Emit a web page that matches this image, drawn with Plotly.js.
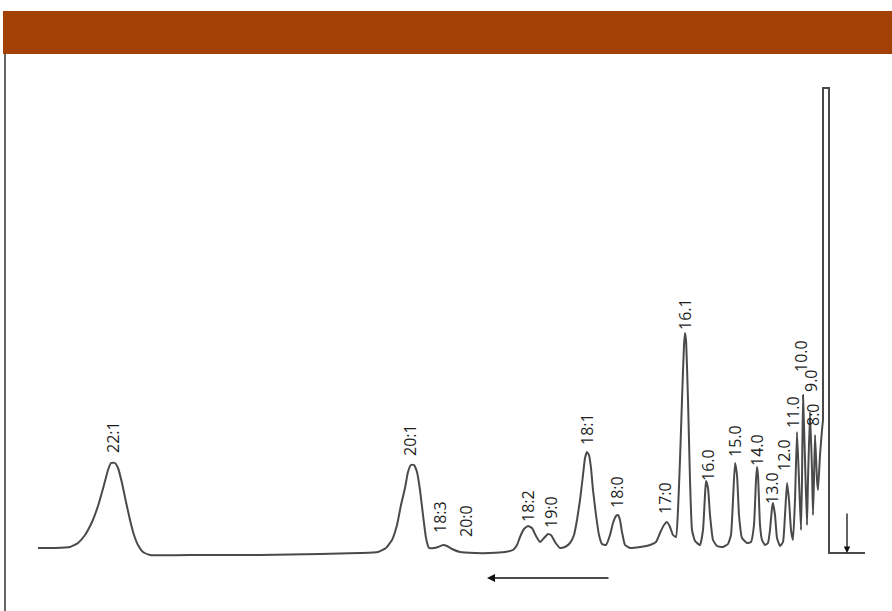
<!DOCTYPE html>
<html>
<head>
<meta charset="utf-8">
<script src="https://cdn.plot.ly/plotly-3.0.1.min.js"></script>
<style>html,body{margin:0;padding:0;background:#fff;}#chart{width:892px;height:611px;}</style>
</head>
<body>
<div id="chart"></div>
<script>
// Chromatogram trace: retention position (x) and detector signal (y)
const retention = [38,55,70,78,85,92,98,104,108,111,115,118,122,126,130,134,138,143,150,200,260,320,360,378,386,392,397,401,405,408,411,414,417,420,423,426,429,434,438,443,447,452,460,475,490,505,513,517,520,524,528,532,536,540,544,548,551,555,560,565,570,574,577,580,583,585,587,589,591,593,596,599,602,606,610,613,616,618,620,622,625,630,640,650,656,660,664,667,670,673,676,678,680,682,684,685,686,688,690,692,695,700,703,705,706,708,710,713,717,723,728,731,733,735,737,739,742,747,751,754,756,757,758,760,762,765,768,770,772,773,775,777,780,783,785,787,789,791,793,795,797,799,801,802,803,805,807,808,810,812,813,814,815,817,818,820,822,823];
const signal = [5,5,6,10,18,31,47,68,83,90,90,85,70,51,33,18,8,1,-2,-2,-2,-1,0,1,5,13,28,48,65,81,88,88,81,63,38,15,5,5,6,8,7,4,1,0,0,1,3,8,16,24,27,25,17,11,15,19,18,11,5,6,10,18,33,53,78,95,101,98,85,63,38,18,9,8,18,30,37,38,33,21,8,5,6,8,11,20,28,31,26,18,16,43,93,153,208,220,213,153,73,23,12,8,23,58,72,65,38,13,7,6,9,18,53,90,78,38,15,10,11,28,73,86,78,28,13,8,10,23,45,50,38,15,7,11,38,70,53,23,13,53,121,73,23,73,158,93,28,73,141,83,38,73,118,73,63,98,123,133];
// Solvent front peak (off-scale, flat-topped) and trailing baseline
const solventRetention = [823,823,829,829,865];
const solventSignal = [133,465,465,0,0];

// Peak labels and where they sit
const peakLabels = ["22:1","20:1","18:3","20:0","18:2","19:0","18:1","18:0","17:0","16.1","16.0","15.0","14.0","13.0","12.0","11.0","10.0","9.0","8:0"];
const labelX = [113,410,440,466,528,551,587,617,665,685,708,735,757,772,784,793,801,811,813];
const labelY = [116,113,36,32,47,41,124,61,55,239,88,112,103,65,98,141,197,172,138];

const lineStyle = {color: '#4a4a4a', width: 2};
const trace = {
  x: retention, y: signal, type: 'scatter', mode: 'lines',
  line: Object.assign({}, lineStyle, {shape: 'spline', smoothing: 0.4}),
  hoverinfo: 'skip'
};
const solvent = {
  x: solventRetention, y: solventSignal, type: 'scatter', mode: 'lines',
  line: Object.assign({}, lineStyle, {shape: 'linear'}),
  hoverinfo: 'skip'
};

const annotations = peakLabels.map((t, i) => ({
  x: labelX[i], y: labelY[i], xref: 'x', yref: 'y',
  text: t, showarrow: false, textangle: -90,
  xanchor: 'center', yanchor: 'middle',
  font: {family: 'Open Sans, sans-serif', size: 16, color: '#1e1e1e'}
}));
// direction arrow (left) and injection marker (down)
annotations.push({
  x: 487, y: -25, ax: 610, ay: -25, axref: 'x', ayref: 'y', xref: 'x', yref: 'y',
  text: '', showarrow: true, arrowhead: 2, arrowsize: 1, arrowwidth: 1.6, arrowcolor: '#111'
});
annotations.push({
  x: 847, y: 0, ax: 847, ay: 41, axref: 'x', ayref: 'y', xref: 'x', yref: 'y',
  text: '', showarrow: true, arrowhead: 2, arrowsize: 1, arrowwidth: 1.3, arrowcolor: '#111'
});

const layout = {
  width: 892, height: 611,
  margin: {l: 0, r: 0, t: 0, b: 0},
  paper_bgcolor: '#ffffff', plot_bgcolor: '#ffffff',
  showlegend: false,
  xaxis: {range: [0, 892], visible: false, fixedrange: true},
  yaxis: {range: [-58, 553], visible: false, fixedrange: true},
  shapes: [
    {type: 'rect', xref: 'paper', yref: 'paper', x0: 3/892, x1: 1, y0: 1 - 54/611, y1: 1 - 11/611,
     fillcolor: '#a34105', line: {width: 0}, layer: 'below'},
    {type: 'line', xref: 'paper', yref: 'paper', x0: 5/892, x1: 5/892, y0: 0, y1: 1 - 54/611,
     line: {color: '#333', width: 1.5}}
  ],
  annotations: annotations
};

Plotly.newPlot('chart', [trace, solvent], layout, {displayModeBar: false, staticPlot: true});
</script>
</body>
</html>
